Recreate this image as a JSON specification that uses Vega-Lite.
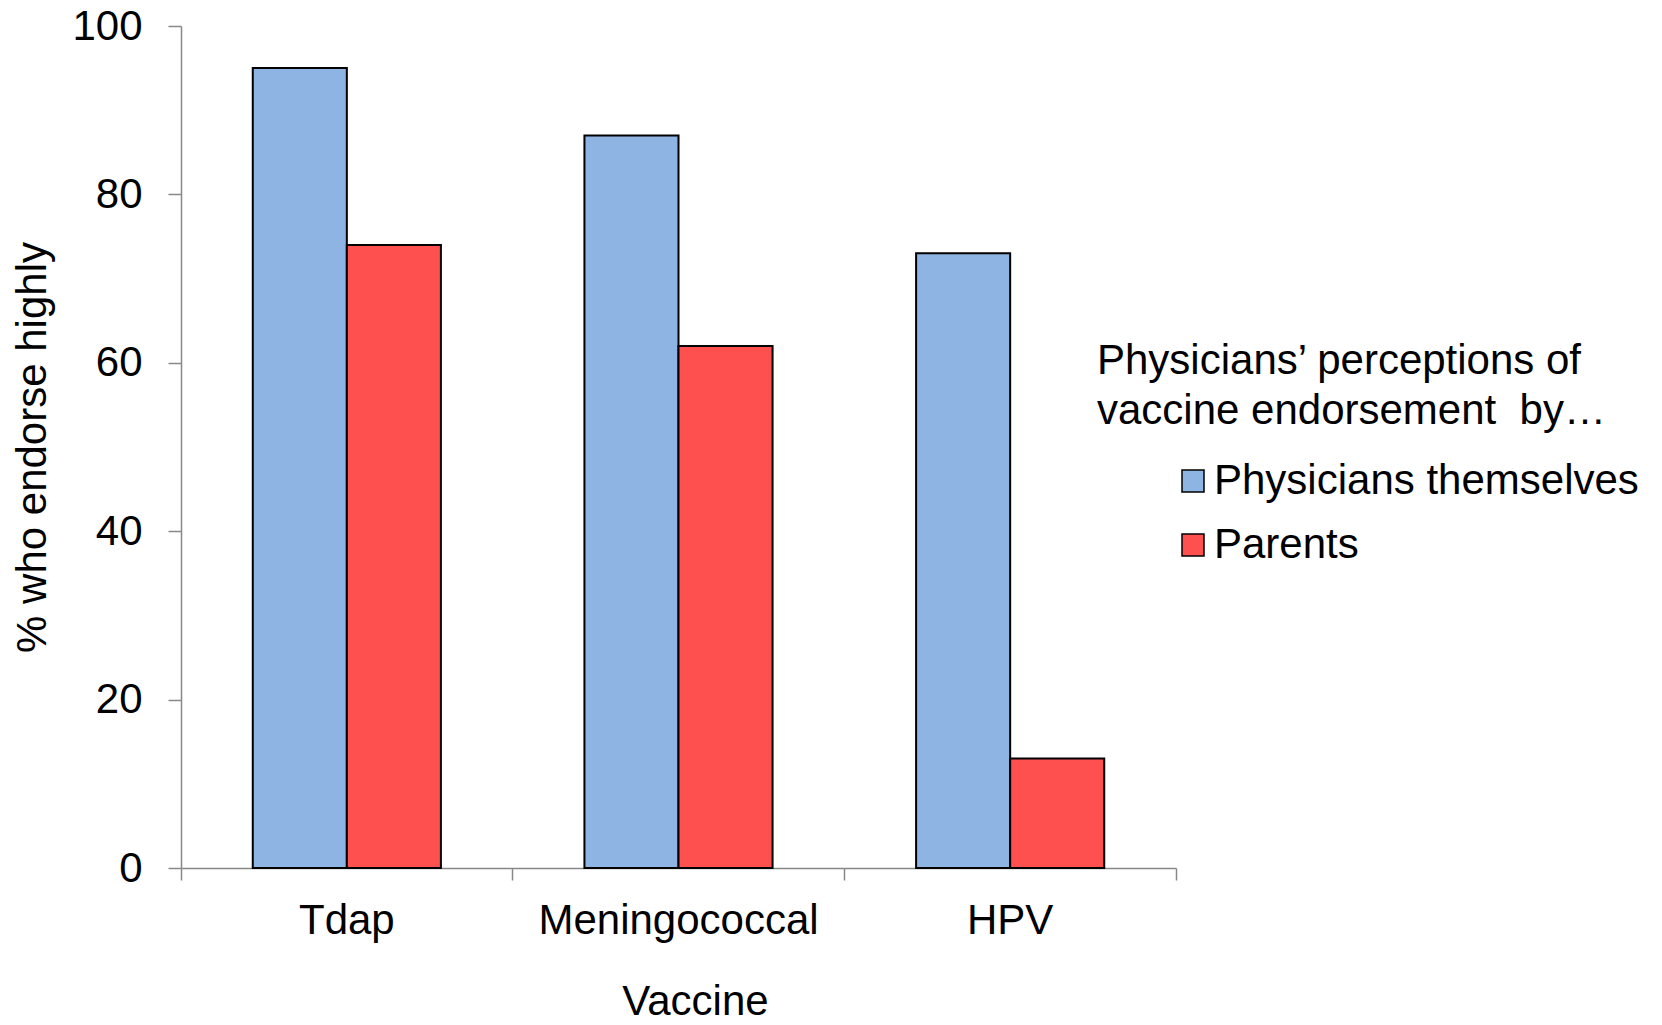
{
  "$schema": "https://vega.github.io/schema/vega-lite/v6.json",
  "width": 995,
  "height": 842,
  "autosize": "none",
  "padding": {"left": 181, "top": 26, "right": 486, "bottom": 157},
  "config": {"font": "Liberation Sans", "view": {"stroke": null}},
  "data": {
    "values": [
      {"vaccine": "Tdap", "group": "Physicians themselves", "pct": 95},
      {"vaccine": "Tdap", "group": "Parents", "pct": 74},
      {"vaccine": "Meningococcal", "group": "Physicians themselves", "pct": 87},
      {"vaccine": "Meningococcal", "group": "Parents", "pct": 62},
      {"vaccine": "HPV", "group": "Physicians themselves", "pct": 73},
      {"vaccine": "HPV", "group": "Parents", "pct": 13}
    ]
  },
  "mark": {"type": "bar", "stroke": "black", "strokeWidth": 2},
  "encoding": {
    "x": {
      "field": "vaccine",
      "type": "nominal",
      "sort": ["Tdap", "Meningococcal", "HPV"],
      "title": "Vaccine",
      "scale": {"paddingInner": 0, "paddingOuter": 0},
      "axis": {
        "labelAngle": 0,
        "bandPosition": 1,
        "tickExtra": true,
        "tickSize": 12,
        "tickColor": "#888888",
        "tickWidth": 1.5,
        "domainColor": "#888888",
        "domainWidth": 1.5,
        "labelPadding": 20,
        "labelFontSize": 42,
        "labelColor": "black",
        "labelLimit": 0,
        "titleFontSize": 42,
        "titleFontWeight": "normal",
        "titleColor": "black",
        "titlePadding": 40,
        "titleX": 514
      }
    },
    "xOffset": {
      "field": "group",
      "sort": ["Physicians themselves", "Parents"],
      "scale": {"paddingInner": 0, "paddingOuter": 0.763}
    },
    "y": {
      "field": "pct",
      "type": "quantitative",
      "title": "% who endorse highly",
      "scale": {"domain": [0, 100]},
      "axis": {
        "values": [0, 20, 40, 60, 80, 100],
        "grid": false,
        "tickSize": 13,
        "tickColor": "#888888",
        "tickWidth": 1.5,
        "domainColor": "#888888",
        "domainWidth": 1.5,
        "labelPadding": 26,
        "labelFontSize": 42,
        "labelColor": "black",
        "labelFlush": false,
        "titleFontSize": 42,
        "titleFontWeight": "normal",
        "titleColor": "black",
        "titlePadding": 17
      }
    },
    "color": {
      "field": "group",
      "type": "nominal",
      "sort": ["Physicians themselves", "Parents"],
      "scale": {"domain": ["Physicians themselves", "Parents"], "range": ["#8EB4E3", "#FF5050"]},
      "legend": {
        "orient": "none",
        "legendX": 916,
        "legendY": 315,
        "padding": 0,
        "title": ["Physicians’ perceptions of", "vaccine endorsement\u00a0 by…"],
        "titleFontSize": 42,
        "titleFontWeight": "normal",
        "titleColor": "black",
        "titleLineHeight": 50,
        "titlePadding": 27,
        "titleLimit": 800,
        "labelFontSize": 42,
        "labelColor": "black",
        "labelLimit": 800,
        "labelOffset": 0,
        "symbolType": "square",
        "symbolSize": 484,
        "symbolStrokeColor": "black",
        "symbolStrokeWidth": 1.5,
        "symbolOpacity": 1,
        "symbolOffset": 75,
        "rowPadding": 22
      }
    }
  }
}
